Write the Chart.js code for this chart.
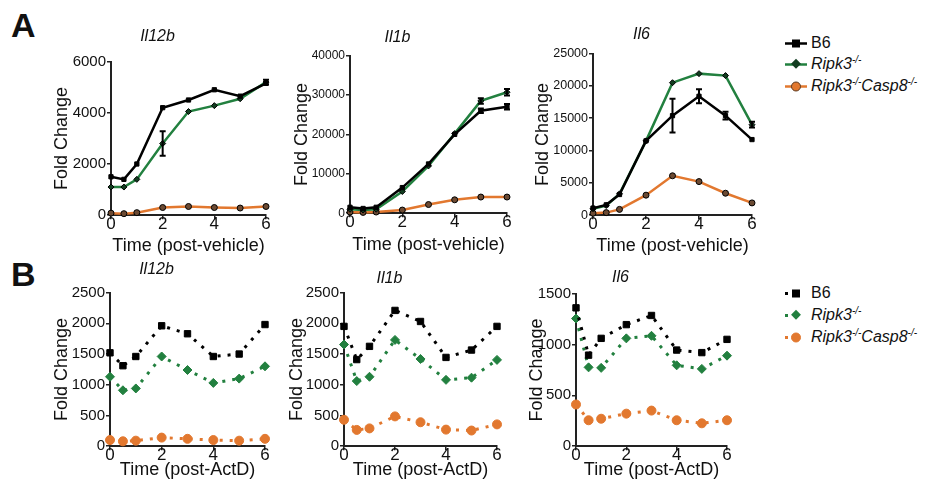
<!DOCTYPE html>
<html>
<head>
<meta charset="utf-8">
<script src="https://cdn.jsdelivr.net/npm/chart.js@4.4.1/dist/chart.umd.min.js"></script>
<style>
  body { margin: 0; width: 932px; height: 489px; background: #fff; position: relative; overflow: hidden;
         font-family: "Liberation Sans", Arial, sans-serif; color: #111; }
  canvas { position: absolute; }
  .letter { position: absolute; font-weight: bold; font-size: 34px; line-height: 1; }
  .lrow { position: absolute; height: 20px; display: flex; align-items: center; font-size: 16px; white-space: nowrap; }
  .lrow svg { margin-right: 2px; }
  .lrow sup { font-size: 10px; line-height: 0; }
</style>
</head>
<body>
<div class="letter" style="left:11px; top:8px">A</div>
<div class="letter" style="left:11px; top:257px">B</div>
<div id="legends"></div>

<script>
// time after treatment (h)
const timeHours = [0, 0.5, 1, 2, 3, 4, 5, 6];
const strains = ["B6", "Ripk3-/-", "Ripk3-/-Casp8-/-"];

// A: post-vehicle
const vehIl12bB6 = [1500, 1400, 2000, 4200, 4500, 4900, 4650, 5150];
const vehIl12bRipk3 = [1100, 1100, 1400, 2800, 4050, 4280, 4550, 5200];
const vehIl12bDko = [80, 60, 100, 300, 340, 300, 280, 340];
const vehIl12bRipk3Err = [0, 0, 0, 480, 0, 0, 0, 90];

const vehIl1bB6 = [1500, 1200, 1500, 6500, 12500, 20000, 26000, 27000];
const vehIl1bRipk3 = [1000, 800, 1000, 5500, 12000, 20200, 28500, 30700];
const vehIl1bDko = [300, 200, 300, 800, 2200, 3400, 4100, 4100];
const vehIl1bB6Err = [0, 0, 0, 0, 0, 0, 600, 700];
const vehIl1bRipk3Err = [0, 0, 0, 0, 0, 0, 700, 800];

const vehIl6B6 = [1100, 1600, 3200, 11500, 15400, 18400, 15400, 11700];
const vehIl6Ripk3 = [1000, 1500, 3300, 11500, 20500, 21900, 21600, 14000];
const vehIl6Dko = [300, 400, 900, 3100, 6100, 5200, 3400, 1900];
const vehIl6B6Err = [0, 0, 0, 0, 2600, 1100, 600, 0];
const vehIl6Ripk3Err = [0, 0, 0, 0, 0, 0, 0, 450];

// B: post-ActD
const actIl12bB6 = [1520, 1310, 1460, 1960, 1830, 1460, 1500, 1980];
const actIl12bRipk3 = [1130, 910, 940, 1460, 1240, 1030, 1100, 1300];
const actIl12bDko = [100, 80, 90, 140, 120, 100, 90, 120];

const actIl1bB6 = [1950, 1410, 1625, 2210, 2030, 1445, 1565, 1950];
const actIl1bRipk3 = [1655, 1060, 1130, 1730, 1420, 1080, 1115, 1405];
const actIl1bDko = [430, 265, 290, 485, 390, 270, 255, 355];

const actIl6B6 = [1360, 895, 1060, 1195, 1285, 945, 920, 1050];
const actIl6Ripk3 = [1255, 775, 770, 1060, 1085, 795, 760, 890];
const actIl6Dko = [410, 255, 270, 320, 350, 255, 225, 255];

const strainColors = ["#000000", "#22803f", "#e2782f"];
const darkMarkers = ["#000000", "#123d20", "#6b4a33"];
const strainShapes = ["rect", "rectRot", "circle"];

Chart.defaults.font.family = '"Liberation Sans", Arial, sans-serif';
Chart.defaults.color = "#111";

// simple error bar drawing, using the y scale of each chart
const errorBars = {
  id: "errorBars",
  afterDatasetsDraw(chart) {
    const ctx = chart.ctx;
    const yScale = chart.scales.y;
    chart.data.datasets.forEach((ds, i) => {
      if (!ds.errors) return;
      const meta = chart.getDatasetMeta(i);
      ctx.save();
      ctx.strokeStyle = "#000";
      ctx.lineWidth = 2;
      meta.data.forEach((pt, j) => {
        const e = ds.errors[j];
        if (!e) return;
        const v = ds.data[j].y;
        const top = yScale.getPixelForValue(v + e);
        const bot = yScale.getPixelForValue(v - e);
        ctx.beginPath();
        ctx.moveTo(pt.x, top); ctx.lineTo(pt.x, bot);
        ctx.moveTo(pt.x - 3, top); ctx.lineTo(pt.x + 3, top);
        ctx.moveTo(pt.x - 3, bot); ctx.lineTo(pt.x + 3, bot);
        ctx.stroke();
      });
      ctx.restore();
    });
  }
};

function buildDatasets(series, errs, dotted) {
  return series.map((vals, i) => ({
    label: strains[i],
    data: timeHours.map((t, j) => ({ x: t, y: vals[j] })),
    errors: errs ? errs[i] : null,
    borderColor: strainColors[i],
    borderWidth: dotted ? 3 : 2.5,
    borderDash: dotted ? [3, 7] : [],
    pointStyle: strainShapes[i],
    pointRadius: dotted ? 4.5 : 3,
    pointBackgroundColor: dotted ? strainColors[i] : darkMarkers[i],
    pointBorderColor: dotted ? strainColors[i] : "#000",
    pointBorderWidth: 1,
    tension: 0,
    clip: false
  }));
}

// panel placement (page pixels of the plot box)
const panels = [
  { title: "Il12b", l: 111, t: 62, r: 266, b: 213, titleY: 37, yTitleX: 62, xTitleY: 244, yMax: 6000, yStep: 2000, yFont: 15,
    xTitle: "Time (post-vehicle)", series: [vehIl12bB6, vehIl12bRipk3, vehIl12bDko], errs: [null, vehIl12bRipk3Err, null], dotted: false },
  { title: "Il1b", l: 350, t: 56, r: 507, b: 211, titleY: 38, yTitleX: 302, xTitleY: 243, yMax: 40000, yStep: 10000, yFont: 12,
    xTitle: "Time (post-vehicle)", series: [vehIl1bB6, vehIl1bRipk3, vehIl1bDko], errs: [vehIl1bB6Err, vehIl1bRipk3Err, null], dotted: false },
  { title: "Il6", l: 593, t: 54, r: 752, b: 213, titleY: 35, yTitleX: 543, xTitleY: 244, yMax: 25000, yStep: 5000, yFont: 12.5,
    xTitle: "Time (post-vehicle)", series: [vehIl6B6, vehIl6Ripk3, vehIl6Dko], errs: [vehIl6B6Err, vehIl6Ripk3Err, null], dotted: false },
  { title: "Il12b", l: 110, t: 293, r: 265, b: 444, titleY: 270, yTitleX: 62, xTitleY: 468, yMax: 2500, yStep: 500, yFont: 15,
    xTitle: "Time (post-ActD)", series: [actIl12bB6, actIl12bRipk3, actIl12bDko], errs: null, dotted: true },
  { title: "Il1b", l: 344, t: 293, r: 497, b: 444, titleY: 279, yTitleX: 297, xTitleY: 468, yMax: 2500, yStep: 500, yFont: 15,
    xTitle: "Time (post-ActD)", series: [actIl1bB6, actIl1bRipk3, actIl1bDko], errs: null, dotted: true },
  { title: "Il6", l: 576, t: 294, r: 727, b: 444, titleY: 278, yTitleX: 537, xTitleY: 468, yMax: 1500, yStep: 500, yFont: 15,
    xTitle: "Time (post-ActD)", series: [actIl6B6, actIl6Ripk3, actIl6Dko], errs: null, dotted: true }
];

const yBoxW = 62;
panels.forEach((p) => {
  const left = p.l - yBoxW;
  const top = p.titleY - 11.6;
  const chartTop = p.t - top;
  const xBoxH = p.xTitleY - p.b + 10.8 + 3;
  const cv = document.createElement("canvas");
  cv.width = yBoxW + (p.r - p.l) + 12;
  cv.height = Math.ceil(chartTop + (p.b - p.t) + xBoxH + 2);
  cv.style.left = left + "px";
  cv.style.top = top + "px";
  document.body.appendChild(cv);

  const axisLine = { color: "#222", width: 2 };
  const tickMarks = { drawOnChartArea: false, tickLength: 4, color: "#222", lineWidth: 1.5 };

  new Chart(cv.getContext("2d"), {
    type: "line",
    data: { datasets: buildDatasets(p.series, p.errs, p.dotted) },
    options: {
      responsive: false,
      animation: false,
      layout: { padding: { left: 0, right: 12, top: 0, bottom: 0 } },
      plugins: {
        legend: { display: false },
        tooltip: { enabled: false },
        title: {
          display: true, text: p.title, color: "#111",
          font: { size: 16, style: "italic", weight: "normal" },
          padding: { top: 2, bottom: chartTop - 2 - 19.2 }
        }
      },
      scales: {
        x: {
          type: "linear", min: 0, max: 6,
          ticks: { stepSize: 2, font: { size: 17 }, color: "#111", padding: -5, maxRotation: 0 },
          grid: tickMarks, border: axisLine,
          title: { display: true, text: p.xTitle, color: "#111", font: { size: 18 }, padding: { top: 0, bottom: 3 } },
          afterFit: (s) => { s.height = xBoxH; }
        },
        y: {
          min: 0, max: p.yMax,
          ticks: { stepSize: p.yStep, font: { size: p.yFont }, color: "#111", padding: 1,
                   callback: (v) => String(v) },
          grid: tickMarks, border: axisLine,
          title: { display: true, text: "Fold Change", color: "#111", font: { size: 18 },
                   padding: { top: p.yTitleX - left - 10.8, bottom: 0 } },
          afterFit: (s) => { s.width = yBoxW; }
        }
      }
    },
    plugins: [errorBars]
  });
});

// legends (one for each row of panels)
const legendLabels = ["B6", "<i>Ripk3<sup>-/-</sup></i>", "<i>Ripk3<sup>-/-</sup>Casp8<sup>-/-</sup></i>"];
function legendMarker(i, dotted) {
  const c = strainColors[i];
  let line = dotted
    ? '<rect x="1" y="8" width="3" height="3" fill="' + c + '"/>'
    : '<line x1="1" y1="9.5" x2="23" y2="9.5" stroke="' + c + '" stroke-width="2.5"/>';
  let mark;
  if (i === 0) mark = '<rect x="8" y="5.5" width="8" height="8" fill="#000"/>';
  else if (i === 1) mark = '<rect x="8" y="5.5" width="7" height="7" transform="rotate(45 12 9.5)" fill="' + (dotted ? c : "#123d20") + '"/>';
  else mark = '<circle cx="12" cy="9.5" r="4.5" fill="' + c + '" stroke="' + (dotted ? c : "#5a3a22") + '" stroke-width="1"/>';
  return '<svg width="25" height="19">' + line + mark + '</svg>';
}
const legendBox = document.getElementById("legends");
[[43, 64, 86, false], [293, 315, 337, true]].forEach((rows) => {
  const dotted = rows[3];
  for (let i = 0; i < 3; i++) {
    const row = document.createElement("div");
    row.className = "lrow";
    row.style.left = "784px";
    row.style.top = (rows[i] - 10) + "px";
    row.innerHTML = legendMarker(i, dotted) + "<span>" + legendLabels[i] + "</span>";
    legendBox.appendChild(row);
  }
});
</script>
</body>
</html>
